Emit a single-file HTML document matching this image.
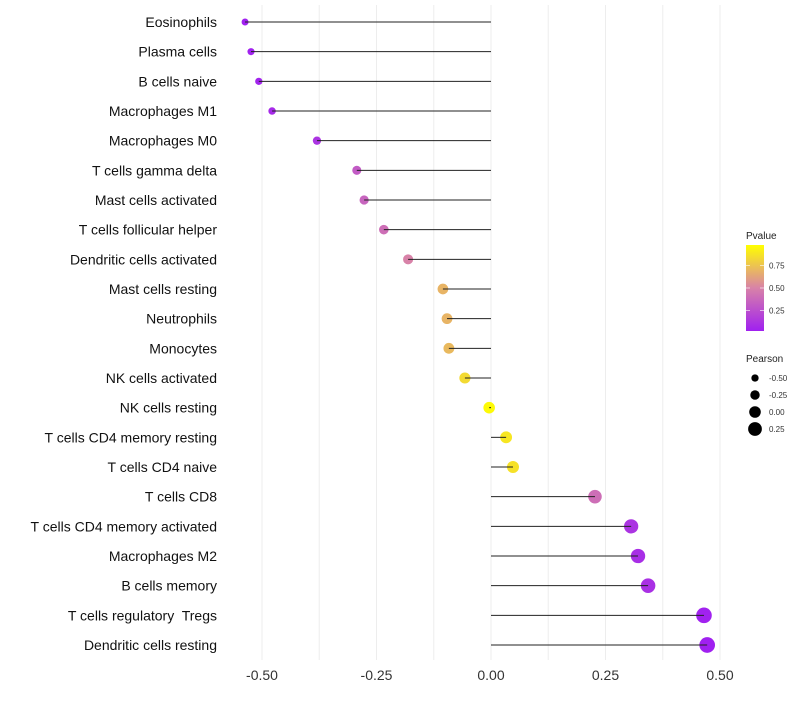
<!DOCTYPE html>
<html><head><meta charset="utf-8"><style>
body{margin:0;background:#fff;}
svg text{font-family:"Liberation Sans",sans-serif;white-space:pre;}
</style></head><body>
<svg id="chart" width="800" height="700">
<defs>
<linearGradient id="pgrad" x1="0" y1="1" x2="0" y2="0">
<stop offset="0" stop-color="#a020f0"/>
<stop offset="0.5" stop-color="#d882a8"/>
<stop offset="1" stop-color="#ffff00"/>
</linearGradient>
</defs>
<g id="grid"></g>
<g id="dots"></g>
<g id="marks"></g>
<g id="ylabels"></g>
<g id="xlabels"></g>
<g>
<text x="746" y="239" font-size="10" fill="#222">Pvalue</text>
<rect x="746" y="245" width="18" height="86" fill="url(#pgrad)"/>
<g id="cbticks"></g>
</g>
<g id="sizelegend">
<text x="746" y="362" font-size="10" fill="#222">Pearson</text>
</g>
</svg>
<script>
const categories=["Eosinophils","Plasma cells","B cells naive","Macrophages M1","Macrophages M0","T cells gamma delta","Mast cells activated","T cells follicular helper","Dendritic cells activated","Mast cells resting","Neutrophils","Monocytes","NK cells activated","NK cells resting","T cells CD4 memory resting","T cells CD4 naive","T cells CD8","T cells CD4 memory activated","Macrophages M2","B cells memory","T cells regulatory  Tregs","Dendritic cells resting"];
const pearson=[-0.537,-0.524,-0.507,-0.478,-0.380,-0.293,-0.277,-0.234,-0.181,-0.105,-0.096,-0.092,-0.057,-0.004,0.033,0.048,0.227,0.306,0.321,0.343,0.465,0.472];
const pvalues=[0.0,0.01,0.02,0.05,0.1,0.3,0.35,0.4,0.5,0.7,0.7,0.72,0.85,0.98,0.9,0.88,0.4,0.1,0.07,0.08,0.01,0.0];
const xTicks=[-0.5,-0.25,0,0.25,0.5];
const xTickLabels=["-0.50","-0.25","0.00","0.25","0.50"];
const pTicks=[0.25,0.5,0.75];
const sizeLegendValues=[-0.5,-0.25,0,0.25];
const sizeLegendLabels=["-0.50","-0.25","0.00","0.25"];

const NS="http://www.w3.org/2000/svg";
const x=v=>491+v*458;
const y=i=>22+i*29.667;
const r=v=>5.8+4.3*v;
function col(p){
  const a=[160,32,240],m=[216,130,168],b=[255,255,0];
  let c;
  if(p<0.5){const t=p/0.5;c=a.map((q,k)=>q+(m[k]-q)*t);}else{const t=(p-0.5)/0.5;c=m.map((q,k)=>q+(b[k]-q)*t);}
  return `rgb(${c.map(Math.round).join(",")})`;
}
function mk(tag,attrs,parent){const e=document.createElementNS(NS,tag);for(const k in attrs)e.setAttribute(k,attrs[k]);parent.appendChild(e);return e;}
const grid=document.getElementById('grid'),marks=document.getElementById('marks'),dots=document.getElementById('dots'),yl=document.getElementById('ylabels'),xl=document.getElementById('xlabels');
for(let v=-0.5;v<=0.5001;v+=0.125){
  const g=mk('line',{x1:x(v),x2:x(v),y1:5,y2:660,stroke:'#ededed','stroke-width':1},grid);
  
  
}
xTicks.forEach((v,i)=>{
  const t=mk('text',{x:x(v),y:680,'font-size':14,fill:'#333','text-anchor':'middle'},xl);
  t.textContent=xTickLabels[i];
  
  
});
categories.forEach((c,i)=>{
  const t=mk('text',{x:217,y:y(i)+5,'font-size':14,fill:'#111','text-anchor':'end'},yl);
  t.textContent=c;
  
  
  const d=mk('circle',{cx:x(pearson[i]),cy:y(i),r:r(pearson[i]),fill:col(pvalues[i])},dots);
  
  
  const s=mk('line',{x1:x(0),x2:x(pearson[i]),y1:y(i),y2:y(i),stroke:'#222','stroke-width':1},marks);
  
  
});
const cb=document.getElementById('cbticks');
pTicks.forEach(p=>{
  const yy=333-p*90;
  const l=mk('line',{x1:746,x2:750,y1:yy,y2:yy,stroke:'#fff','stroke-opacity':0.6},cb);
  
  
  const l2=mk('line',{x1:760,x2:764,y1:yy,y2:yy,stroke:'#fff','stroke-opacity':0.6},cb);
  
  
  const t=mk('text',{x:769,y:yy+3,'font-size':8,fill:'#333'},cb);
  t.textContent=p.toFixed(2);
  
  
});
const sl=document.getElementById('sizelegend');
sizeLegendValues.forEach((v,i)=>{
  const yy=378+i*17;
  const c=mk('circle',{cx:755,cy:yy,r:r(v),fill:'#000'},sl);
  
  
  const t=mk('text',{x:769,y:yy+3,'font-size':8,fill:'#333'},sl);
  t.textContent=sizeLegendLabels[i];
  
  
});
</script>
</body></html>
